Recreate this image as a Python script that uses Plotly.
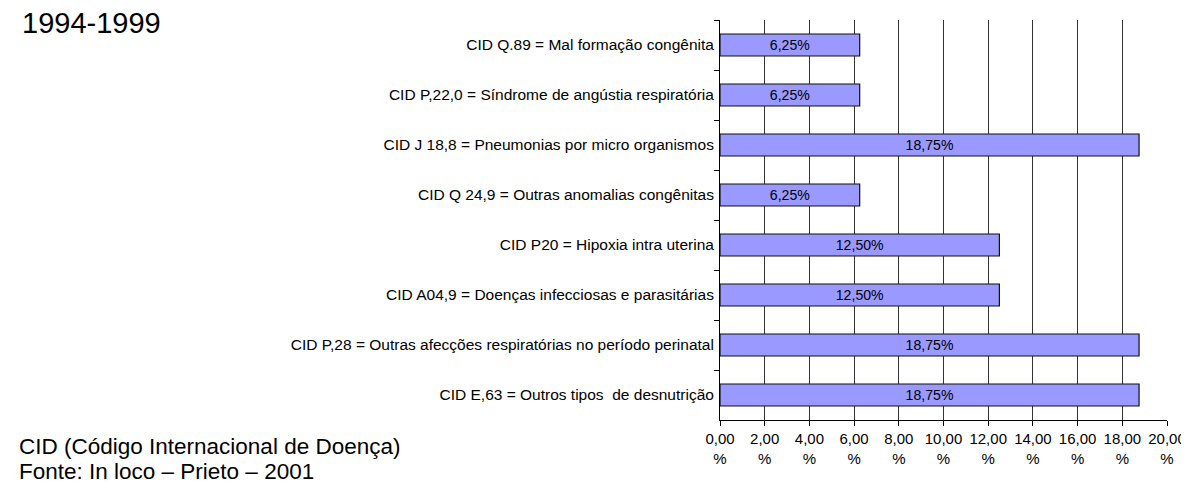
import plotly.graph_objects as go

categories = [
    "CID Q.89 = Mal formação congênita",
    "CID P,22,0 = Síndrome de angústia respiratória",
    "CID J 18,8 = Pneumonias por micro organismos",
    "CID Q 24,9 = Outras anomalias congênitas",
    "CID P20 = Hipoxia intra uterina",
    "CID A04,9 = Doenças infecciosas e parasitárias",
    "CID P,28 = Outras afecções respiratórias no período perinatal",
    "CID E,63 = Outros tipos  de desnutrição",
]
values = [6.25, 6.25, 18.75, 6.25, 12.50, 12.50, 18.75, 18.75]
bar_labels = ["6,25%", "6,25%", "18,75%", "6,25%", "12,50%", "12,50%", "18,75%", "18,75%"]

x_tick_values = [0, 2, 4, 6, 8, 10, 12, 14, 16, 18, 20]
x_tick_labels = ["0,00<br>%", "2,00<br>%", "4,00<br>%", "6,00<br>%", "8,00<br>%",
                 "10,00<br>%", "12,00<br>%", "14,00<br>%", "16,00<br>%", "18,00<br>%", "20,00<br>%"]

title_text = "1994-1999"
note_line1 = "CID (Código Internacional de Doença)"
note_line2 = "Fonte: In loco – Prieto – 2001"

FONT = "Liberation Sans, Arial, sans-serif"

fig = go.Figure(go.Bar(
    x=values,
    y=categories,
    orientation="h",
    width=0.44,
    marker=dict(color="#9999FF", line=dict(color="#111111", width=1.2)),
    text=bar_labels,
    textposition="inside",
    insidetextanchor="middle",
    textangle=0,
    textfont=dict(family=FONT, size=15, color="black"),
    hoverinfo="skip",
))

W, H = 1189, 482
L, R, T, B = 712, 30, 12, 70
pw = W - L - R
ph = H - T - B

def px_x(px):
    return (px - L) / pw

def px_y(py):
    return (H - B - py) / ph

fig.update_layout(
    width=W, height=H,
    margin=dict(l=L, r=R, t=T, b=B),
    paper_bgcolor="white",
    plot_bgcolor="white",
    showlegend=False,
    font=dict(family=FONT, color="black"),
    xaxis=dict(
        range=[0, 20],
        tickvals=x_tick_values,
        ticktext=x_tick_labels,
        ticks="outside", ticklen=5, tickcolor="black",
        showline=True, linecolor="black", linewidth=1,
        showgrid=True, gridcolor="#333333", gridwidth=1,
        zeroline=False,
        tickfont=dict(family=FONT, size=15, color="black"),
    ),
    yaxis=dict(
        type="category",
        categoryorder="array",
        categoryarray=categories,
        autorange="reversed",
        tickson="boundaries",
        ticks="outside", ticklen=5, tickcolor="black",
        showline=True, linecolor="black", linewidth=1,
        showgrid=False,
        tickfont=dict(family=FONT, size=15.5, color="black"),
        ticklabelstandoff=2,
    ),
    annotations=[
        dict(text=title_text, xref="paper", yref="paper",
             x=px_x(12), y=px_y(15), xanchor="left", yanchor="middle",
             showarrow=False, font=dict(family=FONT, size=29, color="black")),
        dict(text=note_line1, xref="paper", yref="paper",
             x=px_x(10), y=px_y(438), xanchor="left", yanchor="middle",
             showarrow=False, borderpad=0,
             font=dict(family=FONT, size=22.5, color="black")),
        dict(text=note_line2, xref="paper", yref="paper",
             x=px_x(10), y=px_y(463), xanchor="left", yanchor="middle",
             showarrow=False, borderpad=0,
             font=dict(family=FONT, size=22.5, color="black")),
    ],
)

fig.write_html("out.html")
